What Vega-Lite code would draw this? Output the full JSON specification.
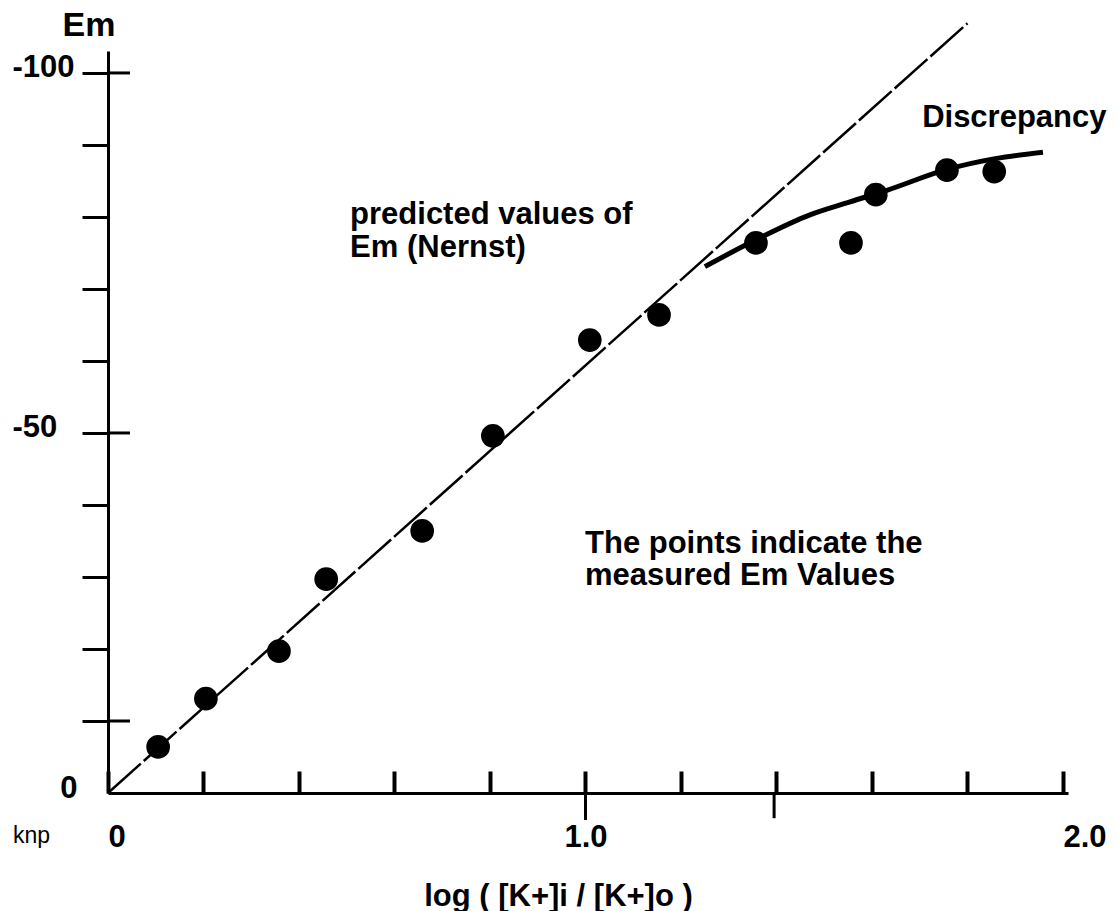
{
  "$schema": "https://vega.github.io/schema/vega-lite/v6.json",
  "width": 960,
  "height": 742,
  "autosize": {"type": "none"},
  "padding": {"left": 108, "top": 51, "right": 49, "bottom": 118},
  "background": "white",
  "config": {
    "view": {"stroke": null},
    "font": "Liberation Sans"
  },
  "datasets": {
    "measured": [
      {"logratio": 0.105, "em": -6.4},
      {"logratio": 0.205, "em": -13.1},
      {"logratio": 0.358, "em": -19.7},
      {"logratio": 0.457, "em": -29.7},
      {"logratio": 0.658, "em": -36.4},
      {"logratio": 0.806, "em": -49.6},
      {"logratio": 1.009, "em": -62.9},
      {"logratio": 1.154, "em": -66.4},
      {"logratio": 1.357, "em": -76.4},
      {"logratio": 1.556, "em": -76.4},
      {"logratio": 1.608, "em": -83.1},
      {"logratio": 1.757, "em": -86.5},
      {"logratio": 1.856, "em": -86.3}
    ],
    "nernst": [
      {"logratio": 0, "em": 0},
      {"logratio": 1.8, "em": -106.9}
    ],
    "fit": [
      {"logratio": 1.250, "em": -73.1},
      {"logratio": 1.359, "em": -76.9},
      {"logratio": 1.470, "em": -80.3},
      {"logratio": 1.554, "em": -82.1},
      {"logratio": 1.631, "em": -83.7},
      {"logratio": 1.757, "em": -86.6},
      {"logratio": 1.858, "em": -88.1},
      {"logratio": 1.958, "em": -89.0}
    ],
    "crossticks": [
      {"x": 0, "x2": 0.046, "y": -100, "y2": -100},
      {"x": 0, "x2": 0.046, "y": -50, "y2": -50},
      {"x": 0, "x2": 0.046, "y": -10, "y2": -10},
      {"x": 1.0, "x2": 1.0, "y": 0, "y2": 3.75},
      {"x": 1.395, "x2": 1.395, "y": 0, "y2": 3.5}
    ],
    "notes": [
      {"x": 0.507, "y": -79.0, "label": "predicted values of"},
      {"x": 0.507, "y": -74.4, "label": "Em (Nernst)"},
      {"x": 0.999, "y": -33.4, "label": "The points indicate the"},
      {"x": 0.999, "y": -28.9, "label": "measured Em Values"},
      {"x": 1.705, "y": -92.5, "label": "Discrepancy"}
    ],
    "stray": [
      {"x": -0.199, "y": 6.94, "label": "knp"}
    ]
  },
  "layer": [
    {
      "data": {"name": "nernst"},
      "mark": {"type": "line", "color": "black", "strokeWidth": 2.5, "strokeDash": [44, 4], "clip": false},
      "encoding": {
        "x": {
          "field": "logratio", "type": "quantitative",
          "scale": {"domain": [0, 2.0105], "nice": false, "zero": false},
          "axis": {
            "values": [0, 0.2, 0.4, 0.6, 0.8, 1, 1.2, 1.4, 1.6, 1.8, 2],
            "grid": false,
            "domainColor": "black", "domainWidth": 3,
            "tickColor": "black", "tickWidth": 4, "tickSize": -22,
            "labelExpr": "datum.value === 0 ? '0' : datum.value === 1 ? '1.0' : datum.value === 2 ? '2.0' : ''",
            "labelFont": "Liberation Sans", "labelFontSize": 31, "labelFontWeight": "bold", "labelColor": "black",
            "labelAlign": {"condition": {"test": "datum.value === 1", "value": "center"}, "value": "left"},
            "labelBaseline": "alphabetic",
            "labelPadding": 75,
            "labelOverlap": false, "labelFlush": false, "labelBound": false,
            "title": "log ( [K+]i / [K+]o )",
            "titleFont": "Liberation Sans", "titleFontSize": 31, "titleFontWeight": "bold", "titleColor": "black",
            "titleAlign": "center", "titleBaseline": "alphabetic",
            "titleX": 450, "titleY": 112
          }
        },
        "y": {
          "field": "em", "type": "quantitative",
          "scale": {"domain": [0, -103.05], "nice": false, "zero": false},
          "axis": {
            "values": [-100, -90, -80, -70, -60, -50, -40, -30, -20, -10, 0],
            "grid": false,
            "domainColor": "black", "domainWidth": 3,
            "tickColor": "black", "tickWidth": 3, "tickSize": 26,
            "tickOpacity": {"condition": {"test": "datum.value === 0", "value": 0}, "value": 1},
            "labelExpr": "datum.value === -100 ? '-100' : datum.value === -50 ? '-50' : datum.value === 0 ? '0' : ''",
            "labelFont": "Liberation Sans", "labelFontSize": 31, "labelFontWeight": "bold", "labelColor": "black",
            "labelAlign": {"condition": {"test": "datum.value === 0", "value": "right"}, "value": "left"},
            "labelPadding": {"condition": {"test": "datum.value === 0", "value": 5}, "value": 70},
            "labelBaseline": "middle",
            "labelOffset": -5,
            "labelOverlap": false, "labelFlush": false, "labelBound": false,
            "title": "Em",
            "titleFont": "Liberation Sans", "titleFontSize": 34, "titleFontWeight": "bold", "titleColor": "black",
            "titleAngle": 0, "titleAlign": "left", "titleBaseline": "alphabetic",
            "titleX": -46, "titleY": -16
          }
        }
      }
    },
    {
      "data": {"name": "fit"},
      "mark": {"type": "line", "color": "black", "strokeWidth": 5, "interpolate": "monotone"},
      "encoding": {
        "x": {"field": "logratio", "type": "quantitative"},
        "y": {"field": "em", "type": "quantitative"}
      }
    },
    {
      "data": {"name": "measured"},
      "mark": {"type": "circle", "color": "black", "opacity": 1, "size": 560},
      "encoding": {
        "x": {"field": "logratio", "type": "quantitative"},
        "y": {"field": "em", "type": "quantitative"}
      }
    },
    {
      "data": {"name": "crossticks"},
      "mark": {"type": "rule", "color": "black", "strokeWidth": 3, "clip": false},
      "encoding": {
        "x": {"field": "x", "type": "quantitative"},
        "x2": {"field": "x2"},
        "y": {"field": "y", "type": "quantitative"},
        "y2": {"field": "y2"}
      }
    },
    {
      "data": {"name": "notes"},
      "mark": {"type": "text", "align": "left", "baseline": "alphabetic", "font": "Liberation Sans", "fontSize": 31, "fontWeight": "bold", "color": "black"},
      "encoding": {
        "x": {"field": "x", "type": "quantitative"},
        "y": {"field": "y", "type": "quantitative"},
        "text": {"field": "label"}
      }
    },
    {
      "data": {"name": "stray"},
      "mark": {"type": "text", "align": "left", "baseline": "alphabetic", "font": "Liberation Sans", "fontSize": 23, "fontWeight": "normal", "color": "black", "clip": false},
      "encoding": {
        "x": {"field": "x", "type": "quantitative"},
        "y": {"field": "y", "type": "quantitative"},
        "text": {"field": "label"}
      }
    }
  ]
}
